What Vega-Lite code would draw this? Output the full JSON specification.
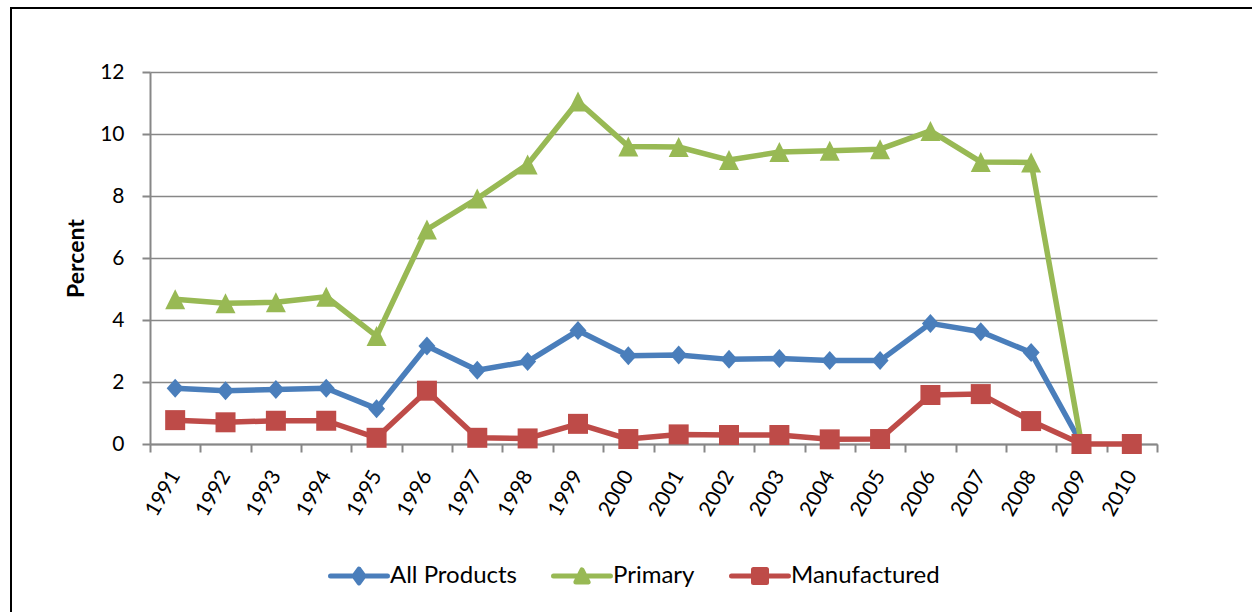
{
  "$schema": "https://vega.github.io/schema/vega-lite/v6.json",
  "width": 1250,
  "height": 610,
  "autosize": {"type": "none"},
  "padding": {"left": 11, "top": 8, "right": -9, "bottom": -6},
  "background": "white",
  "config": {
    "view": {"stroke": "black", "strokeWidth": 2},
    "font": "Lato"
  },
  "data": {
    "values": [
      {"year": "1991", "series": "All Products", "value": 1.80},
      {"year": "1992", "series": "All Products", "value": 1.72},
      {"year": "1993", "series": "All Products", "value": 1.76},
      {"year": "1994", "series": "All Products", "value": 1.80},
      {"year": "1995", "series": "All Products", "value": 1.14},
      {"year": "1996", "series": "All Products", "value": 3.16},
      {"year": "1997", "series": "All Products", "value": 2.38},
      {"year": "1998", "series": "All Products", "value": 2.66},
      {"year": "1999", "series": "All Products", "value": 3.66},
      {"year": "2000", "series": "All Products", "value": 2.85},
      {"year": "2001", "series": "All Products", "value": 2.87},
      {"year": "2002", "series": "All Products", "value": 2.73},
      {"year": "2003", "series": "All Products", "value": 2.76},
      {"year": "2004", "series": "All Products", "value": 2.69},
      {"year": "2005", "series": "All Products", "value": 2.69},
      {"year": "2006", "series": "All Products", "value": 3.89},
      {"year": "2007", "series": "All Products", "value": 3.62},
      {"year": "2008", "series": "All Products", "value": 2.95},
      {"year": "2009", "series": "All Products", "value": 0},
      {"year": "1991", "series": "Primary", "value": 4.67},
      {"year": "1992", "series": "Primary", "value": 4.54},
      {"year": "1993", "series": "Primary", "value": 4.57},
      {"year": "1994", "series": "Primary", "value": 4.75},
      {"year": "1995", "series": "Primary", "value": 3.48},
      {"year": "1996", "series": "Primary", "value": 6.92},
      {"year": "1997", "series": "Primary", "value": 7.92},
      {"year": "1998", "series": "Primary", "value": 9.02},
      {"year": "1999", "series": "Primary", "value": 11.05},
      {"year": "2000", "series": "Primary", "value": 9.60},
      {"year": "2001", "series": "Primary", "value": 9.58},
      {"year": "2002", "series": "Primary", "value": 9.16},
      {"year": "2003", "series": "Primary", "value": 9.42},
      {"year": "2004", "series": "Primary", "value": 9.46},
      {"year": "2005", "series": "Primary", "value": 9.51},
      {"year": "2006", "series": "Primary", "value": 10.10},
      {"year": "2007", "series": "Primary", "value": 9.10},
      {"year": "2008", "series": "Primary", "value": 9.08},
      {"year": "2009", "series": "Primary", "value": 0},
      {"year": "1991", "series": "Manufactured", "value": 0.77},
      {"year": "1992", "series": "Manufactured", "value": 0.70},
      {"year": "1993", "series": "Manufactured", "value": 0.75},
      {"year": "1994", "series": "Manufactured", "value": 0.75},
      {"year": "1995", "series": "Manufactured", "value": 0.20},
      {"year": "1996", "series": "Manufactured", "value": 1.72},
      {"year": "1997", "series": "Manufactured", "value": 0.20},
      {"year": "1998", "series": "Manufactured", "value": 0.18},
      {"year": "1999", "series": "Manufactured", "value": 0.65},
      {"year": "2000", "series": "Manufactured", "value": 0.16},
      {"year": "2001", "series": "Manufactured", "value": 0.31},
      {"year": "2002", "series": "Manufactured", "value": 0.29},
      {"year": "2003", "series": "Manufactured", "value": 0.29},
      {"year": "2004", "series": "Manufactured", "value": 0.15},
      {"year": "2005", "series": "Manufactured", "value": 0.16},
      {"year": "2006", "series": "Manufactured", "value": 1.58},
      {"year": "2007", "series": "Manufactured", "value": 1.61},
      {"year": "2008", "series": "Manufactured", "value": 0.74},
      {"year": "2009", "series": "Manufactured", "value": 0},
      {"year": "2010", "series": "Manufactured", "value": 0}
    ]
  },
  "encoding": {
    "x": {
      "field": "year",
      "type": "ordinal",
      "scale": {"type": "band", "paddingInner": 0, "paddingOuter": 0, "range": [139, 1146]},
      "axis": {
        "title": null,
        "orient": "bottom",
        "offset": -174,
        "tickBand": "extent",
        "domainColor": "#878787",
        "domainWidth": 2,
        "tickColor": "#878787",
        "tickWidth": 2,
        "tickSize": 8,
        "labelAngle": -60,
        "labelAlign": "right",
        "labelBaseline": "middle",
        "labelPadding": 20,
        "labelFont": "Lato",
        "labelFontSize": 21,
        "labelColor": "#000000",
        "grid": false
      }
    },
    "y": {
      "field": "value",
      "type": "quantitative",
      "scale": {"domain": [0, 12], "nice": false, "range": [436, 64]},
      "axis": {
        "title": "Percent",
        "titleFont": "Lato",
        "titleFontSize": 23,
        "titleFontWeight": "bold",
        "titleColor": "#000000",
        "titlePadding": 11,
        "offset": -139,
        "values": [0, 2, 4, 6, 8, 10, 12],
        "grid": true,
        "gridColor": "#878787",
        "gridWidth": 1.6,
        "domainColor": "#878787",
        "domainWidth": 2,
        "tickColor": "#878787",
        "tickWidth": 2,
        "tickSize": 8,
        "labelPadding": 18,
        "labelFont": "Lato",
        "labelFontSize": 21,
        "labelColor": "#000000"
      }
    },
    "color": {
      "field": "series",
      "type": "nominal",
      "scale": {
        "domain": ["All Products", "Primary", "Manufactured"],
        "range": ["#4A7EBB", "#98B954", "#BE4B48"]
      },
      "legend": {
        "title": null,
        "orient": "none",
        "direction": "horizontal",
        "legendX": 336,
        "legendY": 556,
        "padding": 0,
        "symbolSize": 265,
        "symbolStrokeWidth": 5,
        "labelOffset": 19,
        "columnPadding": 34,
        "labelFont": "Lato",
        "labelFontSize": 24,
        "labelColor": "#000000",
        "encode": {
          "symbols": {
            "update": {
              "shape": {"signal": "datum.value === 'All Products' ? 'M-3.5,0H3.5M0,-0.85L0.6,0L0,0.85L-0.6,0Z' : datum.value === 'Primary' ? 'M-3.5,0H3.5M0,-0.75L0.75,0.75L-0.75,0.75Z' : 'M-3.5,0H3.5M-0.8,-0.8H0.8V0.8H-0.8Z'"},
              "fill": {"scale": "color", "field": "value"},
              "stroke": {"scale": "color", "field": "value"},
              "strokeWidth": {"value": 5},
              "strokeCap": {"value": "round"},
              "strokeJoin": {"value": "round"},
              "opacity": {"value": 1},
              "fillOpacity": {"value": 1},
              "strokeOpacity": {"value": 1}
            }
          }
        }
      }
    }
  },
  "layer": [
    {
      "transform": [{"filter": "datum.series === 'All Products'"}],
      "mark": {"type": "line", "strokeWidth": 5.5, "strokeJoin": "round", "strokeCap": "round"}
    },
    {
      "transform": [{"filter": "datum.series === 'All Products'"}],
      "mark": {"type": "point", "filled": true, "opacity": 1, "size": 400, "shape": "M0,-0.95L0.85,0L0,0.95L-0.85,0Z"}
    },
    {
      "transform": [{"filter": "datum.series === 'Primary'"}],
      "mark": {"type": "line", "strokeWidth": 5.5, "strokeJoin": "round", "strokeCap": "round"}
    },
    {
      "transform": [{"filter": "datum.series === 'Primary'"}],
      "mark": {"type": "point", "filled": true, "opacity": 1, "size": 400, "shape": "M0,-1L1,1L-1,1Z"}
    },
    {
      "transform": [{"filter": "datum.series === 'Manufactured'"}],
      "mark": {"type": "line", "strokeWidth": 5.5, "strokeJoin": "round", "strokeCap": "round"}
    },
    {
      "transform": [{"filter": "datum.series === 'Manufactured'"}],
      "mark": {"type": "point", "filled": true, "opacity": 1, "size": 400, "shape": "M-1,-1H1V1H-1Z"}
    }
  ]
}
